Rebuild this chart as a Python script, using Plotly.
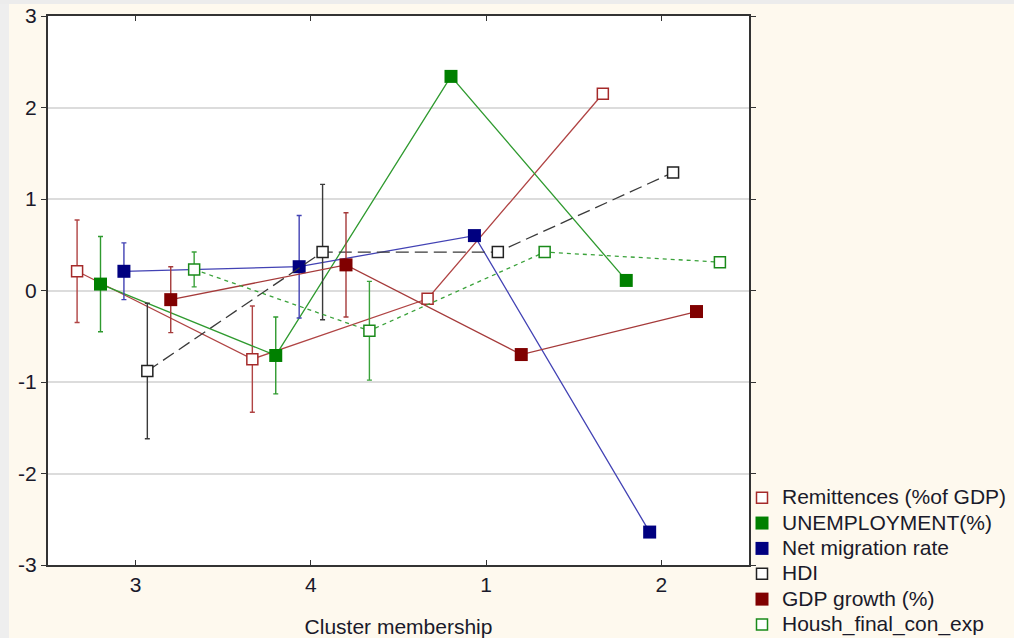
import plotly.graph_objects as go

# Cluster order along the x axis
clusters = ["3", "4", "1", "2"]
y_ticks = [-3, -2, -1, 0, 1, 2, 3]
y_tick_text = ["-3", "-2", "-1", "0", "1", "2", "3"]

# Standardised means per cluster, with +/- error half-widths (single-member clusters have none)
remittences = [0.21, -0.75, -0.09, 2.15]
remittences_err = [0.56, 0.58, None, None]

unemployment = [0.07, -0.71, 2.34, 0.11]
unemployment_err = [0.52, 0.42, None, None]

net_migration = [0.21, 0.26, 0.60, -2.64]
net_migration_err = [0.31, 0.56, None, None]

hdi = [-0.88, 0.42, 0.42, 1.29]
hdi_err = [0.74, 0.74, None, None]

gdp_growth = [-0.10, 0.28, -0.70, -0.23]
gdp_growth_err = [0.36, 0.57, None, None]

housh_cons = [0.23, -0.44, 0.42, 0.31]
housh_cons_err = [0.19, 0.54, None, None]

series = [
    dict(name="Remittences (%of GDP)", y=remittences, err=remittences_err,
         line="#b04444", marker="#a52a2a", filled=False, dash="solid"),
    dict(name="UNEMPLOYMENT(%)", y=unemployment, err=unemployment_err,
         line="#2f9a2f", marker="#008000", filled=True, dash="solid"),
    dict(name="Net migration rate", y=net_migration, err=net_migration_err,
         line="#4242b4", marker="#000080", filled=True, dash="solid"),
    dict(name="HDI", y=hdi, err=hdi_err,
         line="#3a3a3a", marker="#222222", filled=False, dash="13px,6px"),
    dict(name="GDP growth (%)", y=gdp_growth, err=gdp_growth_err,
         line="#a53a3a", marker="#800000", filled=True, dash="solid"),
    dict(name="Housh_final_con_exp", y=housh_cons, err=housh_cons_err,
         line="#3aa23a", marker="#1a8a1a", filled=False, dash="4px,4px"),
]

W, H = 1014, 638
ML, MR, MT, MB = 48, 265, 16, 73
plot_w = W - ML - MR
plot_h = H - MT - MB

n = len(series)
step = 0.1336  # horizontal dodge between series within a cluster


def marker_style(s):
    if s["filled"]:
        return dict(symbol="square", size=13, color=s["marker"],
                    line=dict(color=s["marker"], width=0))
    return dict(symbol="square", size=11, color="#ffffff",
                line=dict(color=s["marker"], width=1.5))


fig = go.Figure()
for i, s in enumerate(series):
    off = (i - (n - 1) / 2) * step
    xs = [k + off for k in range(len(clusters))]
    fig.add_trace(go.Scatter(
        x=xs, y=s["y"], mode="lines+markers", name=s["name"],
        showlegend=False, legendgroup=s["name"],
        line=dict(color=s["line"], width=1.3, dash=s["dash"]),
        marker=marker_style(s),
        error_y=dict(type="data", array=s["err"], visible=True,
                     color=s["line"], thickness=1.4, width=2.5),
    ))
    # legend entry (marker only)
    fig.add_trace(go.Scatter(
        x=[None], y=[None], mode="markers",
        name='<span style="font-size:21px">' + s["name"] + "</span>",
        legendgroup=s["name"], showlegend=True,
        marker=marker_style(s),
    ))


# thin grey window edges on the left and top of the canvas
def px_x(p):
    return (p - ML) / plot_w


def px_y(p):
    return (H - MB - p) / plot_h


shapes = [
    dict(type="rect", xref="paper", yref="paper", layer="below",
         x0=px_x(0), x1=px_x(9), y0=px_y(H), y1=px_y(0),
         fillcolor="#eeeeee", line=dict(width=0)),
    dict(type="rect", xref="paper", yref="paper", layer="below",
         x0=px_x(0), x1=px_x(W), y0=px_y(4), y1=px_y(0),
         fillcolor="#ececec", line=dict(width=0)),
]

fig.update_layout(
    width=W, height=H,
    margin=dict(l=ML, r=MR, t=MT, b=MB, pad=0, autoexpand=False),
    paper_bgcolor="#fef9ee",
    plot_bgcolor="#ffffff",
    font=dict(family="Liberation Sans, Arial, sans-serif", size=18, color="#1a1a2a"),
    shapes=shapes,
    showlegend=True,
    legend=dict(x=px_x(742), xanchor="left", y=px_y(643), yanchor="bottom",
                bgcolor="rgba(0,0,0,0)", borderwidth=0,
                font=dict(size=17.2, color="#1a1a2a"),
                itemwidth=30, tracegroupgap=0),
    xaxis=dict(range=[-0.5, 3.5], tickvals=list(range(len(clusters))),
               ticktext=clusters, showgrid=False, zeroline=False,
               showline=True, linecolor="#333333", linewidth=2, mirror="ticks",
               ticks="inside", ticklen=5, tickcolor="#333333", automargin=False,
               title=dict(text="Cluster membership", font=dict(size=21), standoff=24),
               tickfont=dict(size=21)),
    yaxis=dict(range=[-3, 3], tickvals=y_ticks, ticktext=y_tick_text,
               showgrid=True, gridcolor="#dcdcdc", gridwidth=1.5, zeroline=False,
               showline=True, linecolor="#333333", linewidth=2, mirror="ticks",
               ticks="outside", ticklen=5, tickcolor="#333333", automargin=False,
               tickfont=dict(size=21)),
)

fig.write_html("out.html")
